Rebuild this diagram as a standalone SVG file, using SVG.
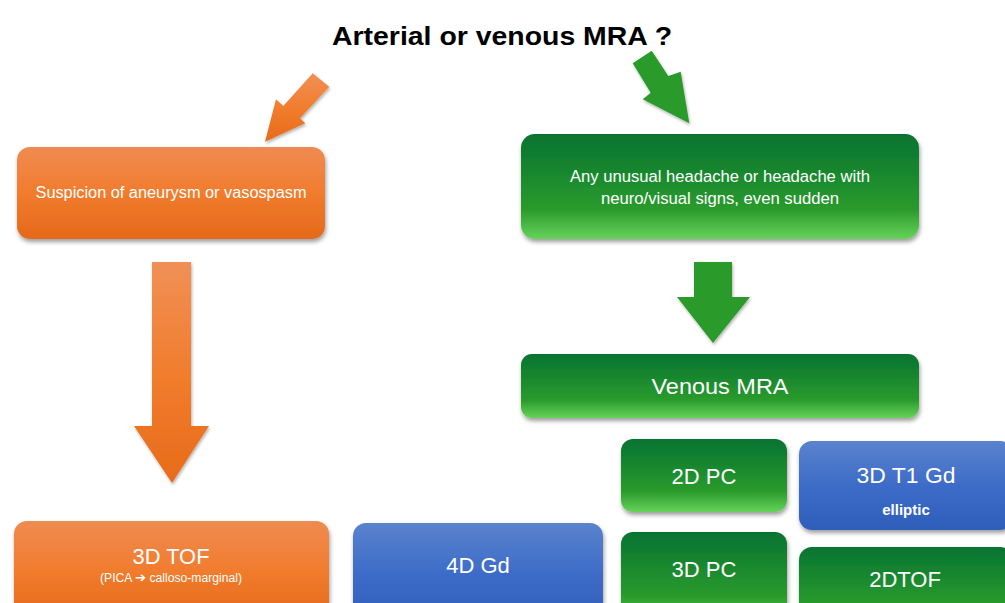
<svg xmlns="http://www.w3.org/2000/svg" width="1005" height="603" viewBox="0 0 1005 603">
<style>
  text { font-family: "Liberation Sans", Arial, sans-serif; fill: #ffffff; text-anchor: middle; }
  .title { fill: #000000; font-weight: bold; font-size: 26px; }
  .t16 { font-size: 16px; }
  .t22 { font-size: 22px; }
  .small { font-size: 12px; font-family: "Liberation Sans", "DejaVu Sans", sans-serif; }
  .sym { font-family: "DejaVu Sans", sans-serif; font-weight: bold; font-size: 13px; }
  .ell { font-size: 15px; font-weight: bold; }
  .orange { fill: url(#gOrange); filter: url(#shadow); }
  .green { fill: url(#gGreen); filter: url(#shadow); }
  .blue { fill: url(#gBlue); filter: url(#shadow); }
  .arrO { fill: url(#gArrO); filter: url(#ashadow); }
  .arrG { fill: #2a9b2c; filter: url(#ashadow); }
</style>
<defs>
  <linearGradient id="gOrange" x1="0" y1="0" x2="0" y2="1">
    <stop offset="0" stop-color="#ef8b52"/>
    <stop offset="0.5" stop-color="#f17c2d"/>
    <stop offset="1" stop-color="#e4691a"/>
  </linearGradient>
  <linearGradient id="gGreen" x1="0" y1="0" x2="0" y2="1">
    <stop offset="0" stop-color="#067331"/>
    <stop offset="0.72" stop-color="#2a9b2c"/>
    <stop offset="1" stop-color="#66d35a"/>
  </linearGradient>
  <linearGradient id="gBlue" x1="0" y1="0" x2="0" y2="1">
    <stop offset="0" stop-color="#5a83cd"/>
    <stop offset="0.5" stop-color="#3d6cc8"/>
    <stop offset="1" stop-color="#2e5eba"/>
  </linearGradient>
  <linearGradient id="gArrO" x1="0" y1="0" x2="0" y2="1">
    <stop offset="0" stop-color="#f09056"/>
    <stop offset="0.5" stop-color="#f17d2e"/>
    <stop offset="1" stop-color="#e86b1a"/>
  </linearGradient>
  <filter id="shadow" x="-10%" y="-10%" width="120%" height="130%">
    <feDropShadow dx="1" dy="3" stdDeviation="2.2" flood-color="#000000" flood-opacity="0.38"/>
  </filter>
  <filter id="ashadow" x="-20%" y="-20%" width="140%" height="140%">
    <feDropShadow dx="1" dy="2" stdDeviation="1.8" flood-color="#000000" flood-opacity="0.3"/>
  </filter>
</defs>

<g id="title">
  <text class="title" x="502" y="45" textLength="340" lengthAdjust="spacingAndGlyphs">Arterial or venous MRA ?</text>
</g>

<g id="connectors">
  <polygon class="arrO" points="312.7,73.3 329.3,86.7 300,118.3 305.3,123.3 265,141.7 276,99.3 283.3,106"/>
  <polygon class="arrG" points="632.7,63.3 651.7,50.7 668.3,76 680.7,71.7 689.3,123.3 642.7,99.3 650.7,92.7"/>
  <polygon class="arrO" points="152,262 191,262 191,426 209,426 172,483 134,426 152,426"/>
  <polygon class="arrG" points="694,262 732,262 732,297 750,297 713,343 677,297 694,297"/>
</g>

<g id="suspicion">
  <rect class="orange" x="17" y="147" width="308" height="92" rx="13"/>
  <text class="t16" x="171" y="198" textLength="271" lengthAdjust="spacingAndGlyphs">Suspicion of aneurysm or vasospasm</text>
</g>

<g id="headache">
  <rect class="green" x="521" y="134" width="398" height="105" rx="14"/>
  <text class="t16" x="720" y="182" textLength="300" lengthAdjust="spacingAndGlyphs">Any unusual headache or headache with</text>
  <text class="t16" x="720" y="204" textLength="238" lengthAdjust="spacingAndGlyphs">neuro/visual signs, even sudden</text>
</g>

<g id="venous-mra">
  <rect class="green" x="521" y="354" width="398" height="64" rx="11"/>
  <text class="t22" x="720" y="394" textLength="137" lengthAdjust="spacingAndGlyphs">Venous MRA</text>
</g>

<g id="tof3d">
  <rect class="orange" x="14" y="521" width="315" height="100" rx="13"/>
  <text class="t22" x="171" y="564" textLength="77" lengthAdjust="spacingAndGlyphs">3D TOF</text>
  <text class="small" x="171" y="582" textLength="142" lengthAdjust="spacingAndGlyphs">(PICA <tspan class="sym">➔</tspan> calloso-marginal)</text>
</g>

<g id="gd4d">
  <rect class="blue" x="353" y="523" width="250" height="100" rx="13"/>
  <text class="t22" x="478" y="573">4D Gd</text>
</g>

<g id="pc2d">
  <rect class="green" x="621" y="439" width="166" height="73" rx="12"/>
  <text class="t22" x="704" y="484">2D PC</text>
</g>

<g id="t1gd3d">
  <rect class="blue" x="799" y="441" width="214" height="89" rx="13"/>
  <text class="t22" x="906" y="483" textLength="99" lengthAdjust="spacingAndGlyphs">3D T1 Gd</text>
  <text class="ell" x="906" y="515">elliptic</text>
</g>

<g id="pc3d">
  <rect class="green" x="621" y="532" width="166" height="90" rx="12"/>
  <text class="t22" x="704" y="577">3D PC</text>
</g>

<g id="tof2d">
  <rect class="green" x="799" y="547" width="214" height="80" rx="13"/>
  <text class="t22" x="905" y="587">2DTOF</text>
</g>
</svg>
